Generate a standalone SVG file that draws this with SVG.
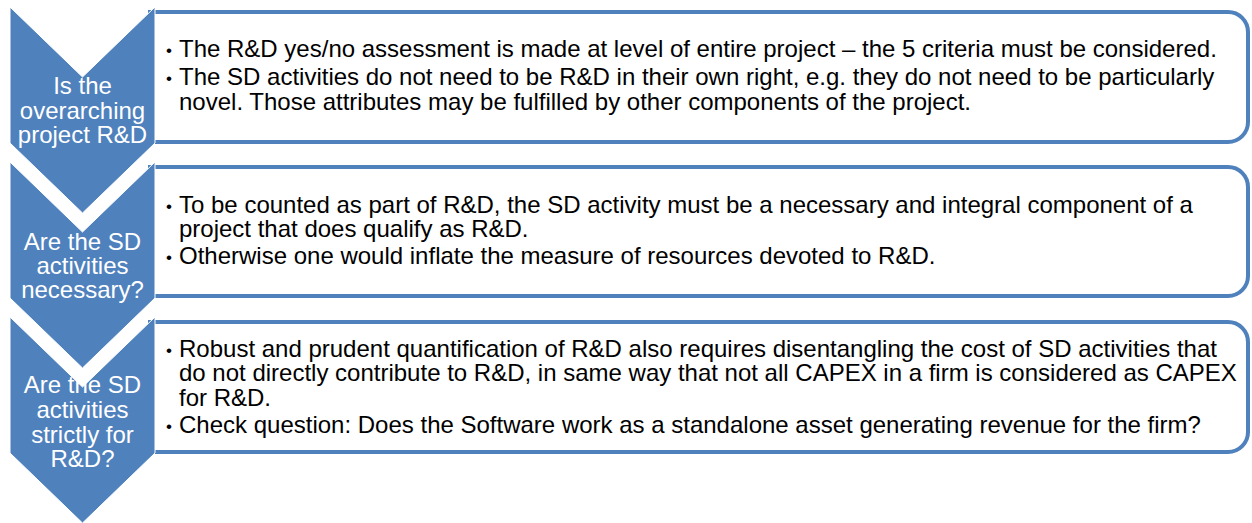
<svg xmlns="http://www.w3.org/2000/svg" width="1252" height="523" viewBox="0 0 1252 523">
<style>
.box{fill:#ffffff;stroke:#4f81bd;stroke-width:4}
.chev{fill:#4f81bd;stroke:#ffffff;stroke-width:1}
.ct{font-family:"Liberation Sans",Arial,sans-serif;font-size:24px;fill:#ffffff;text-anchor:middle}
.bt{font-family:"Liberation Sans",Arial,sans-serif;font-size:24px;fill:#000000}
.bu{font-family:"Liberation Sans",Arial,sans-serif;font-size:17px;fill:#000000}
</style>
<rect width="1252" height="523" fill="#ffffff"/>
<g id="connectors"></g>
<g id="box1">
<path class="box" d="M150,12 H1228 A20,20 0 0 1 1248,32 V122 A20,20 0 0 1 1228,142 H150 Z"/>
<text class="bu" x="166" y="56">•</text><text class="bt" x="179" y="57">The R&amp;D yes/no assessment is made at level of entire project – the 5 criteria must be considered.</text>
<text class="bu" x="166" y="84">•</text><text class="bt" x="179" y="85">The SD activities do not need to be R&amp;D in their own right, e.g. they do not need to be particularly</text>
<text class="bt" x="179" y="110">novel. Those attributes may be fulfilled by other components of the project.</text>
</g>
<g id="chevron1">
<polygon class="chev" points="10,7 82.5,77 155,7 155,143 82.5,213 10,143"/>
<text class="ct" x="82.5" y="94">Is the</text>
<text class="ct" x="82.5" y="119">overarching</text>
<text class="ct" x="82.5" y="143">project R&amp;D</text>
</g>
<g id="box2">
<path class="box" d="M150,167 H1228 A20,20 0 0 1 1248,187 V276 A20,20 0 0 1 1228,296 H150 Z"/>
<text class="bu" x="166" y="212">•</text><text class="bt" x="179" y="213">To be counted as part of R&amp;D, the SD activity must be a necessary and integral component of a</text>
<text class="bt" x="179" y="237">project that does qualify as R&amp;D.</text>
<text class="bu" x="166" y="263">•</text><text class="bt" x="179" y="264">Otherwise one would inflate the measure of resources devoted to R&amp;D.</text>
</g>
<g id="chevron2">
<polygon class="chev" points="10,162 82.5,232 155,162 155,298 82.5,368 10,298"/>
<text class="ct" x="82.5" y="250">Are the SD</text>
<text class="ct" x="82.5" y="274">activities</text>
<text class="ct" x="82.5" y="298">necessary?</text>
</g>
<g id="box3">
<path class="box" d="M150,322 H1228 A20,20 0 0 1 1248,342 V432 A20,20 0 0 1 1228,452 H150 Z"/>
<text class="bu" x="166" y="356">•</text><text class="bt" x="179" y="357">Robust and prudent quantification of R&amp;D also requires disentangling the cost of SD activities that</text>
<text class="bt" x="179" y="381">do not directly contribute to R&amp;D, in same way that not all CAPEX in a firm is considered as CAPEX</text>
<text class="bt" x="179" y="406">for R&amp;D.</text>
<text class="bu" x="166" y="432">•</text><text class="bt" x="179" y="433">Check question: Does the Software work as a standalone asset generating revenue for the firm?</text>
</g>
<g id="chevron3">
<polygon class="chev" points="10,317 82.5,387 155,317 155,453 82.5,523 10,453"/>
<text class="ct" x="82.5" y="393">Are the SD</text>
<text class="ct" x="82.5" y="418">activities</text>
<text class="ct" x="82.5" y="443">strictly for</text>
<text class="ct" x="82.5" y="467">R&amp;D?</text>
</g>
</svg>
